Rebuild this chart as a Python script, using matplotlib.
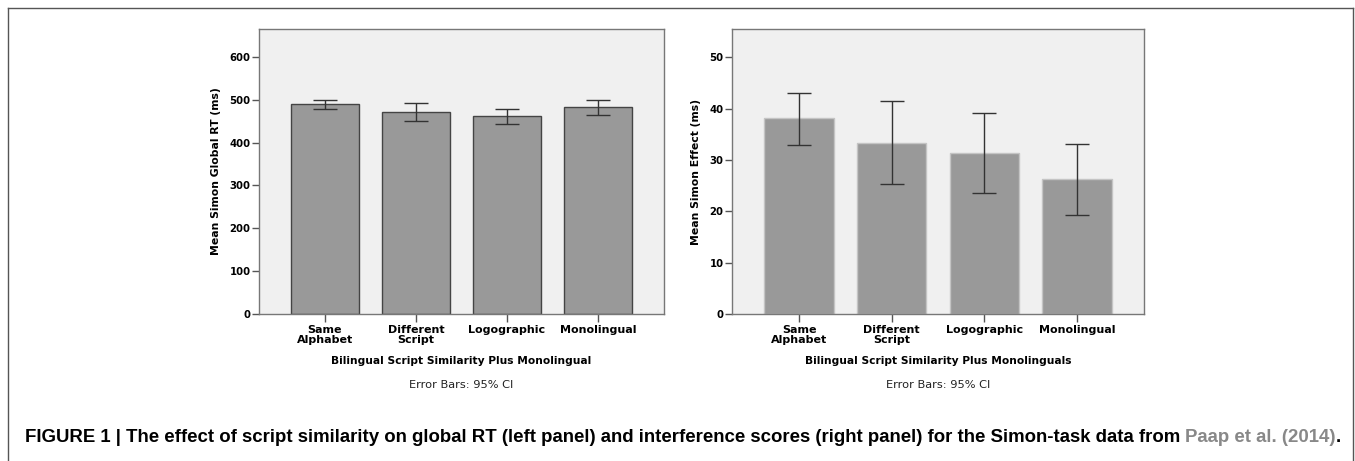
import matplotlib
matplotlib.use("Agg")
import matplotlib.pyplot as plt
from matplotlib.font_manager import FontProperties
from matplotlib.lines import Line2D
import numpy as np

groups = ["Same\nAlphabet", "Different\nScript", "Logographic", "Monolingual"]

# left panel: global RT
rt_mean = [489, 472, 461, 482]
rt_lo = [478, 450, 443, 465]
rt_hi = [500, 492, 478, 499]

# right panel: Simon effect
se_mean = [38.1, 33.3, 31.4, 26.2]
se_lo = [33.0, 25.3, 23.6, 19.2]
se_hi = [43.1, 41.4, 39.1, 33.2]

W, H = 1355, 461
fig = plt.figure(figsize=(W / 100, H / 100), dpi=100)

ytickfont = dict(family="DejaVu Sans", weight="bold", size=7.3)
xtickfont = dict(family="DejaVu Sans", weight="bold", size=8)


def panel(rect, means, lo, hi, ylim, yticks, ylabel, xlabel, edge):
    ax = fig.add_axes(rect)
    ax.set_facecolor("#f0f0f0")
    x = np.arange(len(means))
    means = np.array(means)
    err = [means - np.array(lo), np.array(hi) - means]
    ax.bar(x, means, width=0.75, color="#999999", edgecolor=edge, linewidth=1, zorder=2)
    ax.errorbar(x, means, yerr=err, fmt="none", ecolor="#333333", elinewidth=1,
                capsize=8.3, capthick=1, zorder=3)
    ax.set_xlim(-0.725, len(means) - 1 + 0.725)
    ax.set_ylim(*ylim)
    ax.set_yticks(yticks)
    ax.set_xticks(x)
    ax.set_xticklabels(groups, linespacing=0.95, **xtickfont)
    for lab in ax.get_yticklabels():
        lab.set_fontproperties(FontProperties(**ytickfont))
    for s in ax.spines.values():
        s.set_color("#777777")
        s.set_linewidth(1)
    ax.tick_params(axis="y", length=5, width=1, color="#555555", pad=1)
    ax.tick_params(axis="x", length=6, width=1, color="#555555", pad=2)
    ax.set_ylabel(ylabel, fontdict=dict(family="DejaVu Sans", weight="bold", size=7.8), labelpad=6)
    cx = rect[0] + rect[2] / 2
    fig.text(cx, 1 - 361 / H, xlabel, ha="center", va="center",
             family="DejaVu Sans", weight="bold", size=7.7)
    fig.text(cx, 1 - 385 / H, "Error Bars: 95% CI", ha="center", va="center",
             family="DejaVu Sans", size=8.2, color="#222222")
    return ax


bottom = 1 - 314 / H
height = (314 - 29) / H
panel([259 / W, bottom, 405 / W, height], rt_mean, rt_lo, rt_hi, (0, 665),
      range(0, 601, 100), "Mean Simon Global RT (ms)",
      "Bilingual Script Similarity Plus Monolingual", "#444444")
panel([732 / W, bottom, 412 / W, height], se_mean, se_lo, se_hi, (0, 55.5),
      range(0, 51, 10), "Mean Simon Effect (ms)",
      "Bilingual Script Similarity Plus Monolinguals", "#c4c4c4")

# outer frame (open at the bottom)
fx0, fx1, fy = 8 / W, 1353 / W, 1 - 8 / H
for xs, ys in [([fx0, fx0], [0, fy]), ([fx0, fx1], [fy, fy]), ([fx1, fx1], [fy, 0])]:
    fig.add_artist(Line2D(xs, ys, transform=fig.transFigure, color="#555555", lw=1))

# caption
cap = dict(family="Liberation Sans", weight="bold", size=13.4)
t1 = fig.text(25 / W, 1 - 437 / H, "FIGURE 1 | The effect of script similarity on global RT (left panel) "
              "and interference scores (right panel) for the Simon-task data from ",
              ha="left", va="center", **cap)
t2 = fig.text(0, 0, "", **cap)
t2 = plt.annotate("Paap et al. (2014)", xy=(1, 0), xycoords=t1, va="bottom", ha="left",
                  color="#888888", annotation_clip=False, **cap)
plt.annotate(".", xy=(1, 0), xycoords=t2, va="bottom", ha="left", color="black",
             annotation_clip=False, **cap)

fig.savefig("out.png", dpi=100)
